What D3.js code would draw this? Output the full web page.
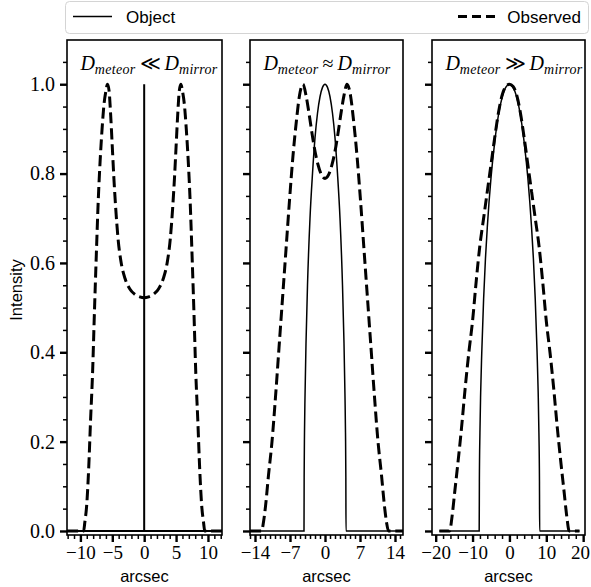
<!DOCTYPE html>
<html>
<head>
<meta charset="utf-8">
<script src="https://cdn.jsdelivr.net/npm/d3@7"></script>
<style>
  body { margin: 0; background: #fff; }
  svg { display: block; }
</style>
</head>
<body>
<svg id="chart" width="591" height="587"></svg>
<script>
// ---------- data ----------
const yTickValues = [0, 0.2, 0.4, 0.6, 0.8, 1.0];
const yTickLabels = ["0.0", "0.2", "0.4", "0.6", "0.8", "1.0"];

const xTicksNarrow = [-10, -5, 0, 5, 10];
const xTicksMid = [-14, -7, 0, 7, 14];
const xTicksWide = [-20, -10, 0, 10, 20];

const relations = ["≪", "≈", "≫"];
const legendLabels = ["Object", "Observed"];
const axisLabelX = "arcsec";
const axisLabelY = "Intensity";

// point source: a spike at the centre
const objectNarrow = [[-12.1, 0], [-0.001, 0], [0, 1.0], [0.001, 0], [12.2, 0]];
const observedNarrow = [
  [-12.1, 0], [-9.5, 0], [-9.3, 0.02], [-9.0, 0.06], [-8.7, 0.14], [-8.4, 0.25],
  [-8.1, 0.35], [-7.8, 0.49], [-7.5, 0.62], [-7.2, 0.74], [-6.9, 0.83], [-6.6, 0.9],
  [-6.3, 0.955], [-6.0, 0.985], [-5.75, 1.0], [-5.5, 0.985], [-5.25, 0.93], [-5.0, 0.86],
  [-4.75, 0.79], [-4.45, 0.72], [-4.1, 0.655], [-3.6, 0.6], [-3.0, 0.565], [-2.3, 0.543],
  [-1.5, 0.53], [-0.7, 0.524], [0, 0.522],
  [0.7, 0.524], [1.5, 0.53], [2.3, 0.543], [3.0, 0.565], [3.6, 0.6], [4.1, 0.655],
  [4.45, 0.72], [4.75, 0.79], [5.0, 0.86], [5.25, 0.93], [5.5, 0.985], [5.75, 1.0],
  [6.0, 0.985], [6.3, 0.955], [6.6, 0.9], [6.9, 0.83], [7.2, 0.74], [7.5, 0.62],
  [7.8, 0.49], [8.1, 0.35], [8.4, 0.25], [8.7, 0.14], [9.0, 0.06], [9.3, 0.02],
  [9.5, 0], [12.2, 0]
];

// meteor comparable to the mirror
const objectMid = [
  [-15.0, 0], [-4.2, 0], [-4.17, 0.12], [-4.1, 0.22], [-4.0, 0.3], [-3.8, 0.42],
  [-3.5, 0.55], [-3.0, 0.7], [-2.5, 0.8], [-2.0, 0.88], [-1.5, 0.935], [-1.0, 0.972],
  [-0.5, 0.993], [0, 1.0],
  [0.5, 0.993], [1.0, 0.972], [1.5, 0.935], [2.0, 0.88], [2.5, 0.8], [3.0, 0.7],
  [3.5, 0.55], [3.8, 0.42], [4.0, 0.3], [4.1, 0.22], [4.17, 0.12], [4.2, 0], [15.6, 0]
];
const observedMid = [
  [-15.0, 0], [-12.7, 0], [-12.3, 0.02], [-11.9, 0.055], [-11.3, 0.125], [-10.6, 0.2],
  [-9.9, 0.3], [-9.2, 0.41], [-8.5, 0.52], [-7.8, 0.63], [-7.1, 0.74], [-6.4, 0.84],
  [-5.7, 0.92], [-5.1, 0.975], [-4.4, 1.0], [-3.8, 0.975], [-3.2, 0.935], [-2.6, 0.89],
  [-2.0, 0.85], [-1.4, 0.82], [-0.7, 0.797], [0, 0.789],
  [0.7, 0.797], [1.4, 0.82], [2.0, 0.85], [2.6, 0.89], [3.2, 0.935], [3.8, 0.975],
  [4.4, 1.0], [5.1, 0.975], [5.7, 0.92], [6.4, 0.84], [7.1, 0.74], [7.8, 0.63],
  [8.5, 0.52], [9.2, 0.41], [9.9, 0.3], [10.6, 0.2], [11.3, 0.125], [11.9, 0.055],
  [12.3, 0.02], [12.7, 0], [15.6, 0]
];

// meteor much larger than the mirror
const objectWide = [
  [-19, 0], [-8.2, 0], [-8.15, 0.11], [-8.0, 0.22], [-7.8, 0.31], [-7.5, 0.4],
  [-7.0, 0.52], [-6.5, 0.61], [-6.0, 0.68], [-5.0, 0.79], [-4.0, 0.87], [-3.0, 0.93],
  [-2.0, 0.97], [-1.0, 0.993], [0, 1.0],
  [1.0, 0.993], [2.0, 0.97], [3.0, 0.93], [4.0, 0.87], [5.0, 0.79], [6.0, 0.68],
  [6.5, 0.61], [7.0, 0.52], [7.5, 0.4], [7.8, 0.31], [8.0, 0.22], [8.15, 0.11],
  [8.2, 0], [19, 0]
];
const observedWide = [
  [-19, 0], [-16.2, 0], [-15.6, 0.03], [-14.8, 0.09], [-14.0, 0.15], [-13.0, 0.23],
  [-12.0, 0.32], [-11.0, 0.4], [-10.0, 0.47], [-9.0, 0.56], [-8.0, 0.64], [-7.0, 0.7],
  [-6.0, 0.76], [-5.0, 0.82], [-4.0, 0.88], [-3.0, 0.935], [-2.0, 0.975], [-1.0, 0.995],
  [0, 1.0],
  [1.0, 0.995], [2.0, 0.975], [3.0, 0.935], [4.0, 0.88], [5.0, 0.82], [6.0, 0.76],
  [7.0, 0.7], [8.0, 0.64], [9.0, 0.56], [10.0, 0.47], [11.0, 0.4], [12.0, 0.32],
  [13.0, 0.23], [14.0, 0.15], [14.8, 0.09], [15.6, 0.03], [16.2, 0], [19, 0]
];

// ---------- layout ----------
const svgWidth = 591;
const svg = d3.select("#chart");
const plotTop = 40, plotBottom = 535;
const serif = "'Liberation Serif', 'DejaVu Serif', serif";
const sans = "'Liberation Sans', Arial, sans-serif";

const y = d3.scaleLinear().domain([-0.009, 1.099]).range([plotBottom, plotTop]);

const panels = [
  { left: 67,  right: 222, domain: [-12.1, 12.2], ticks: xTicksNarrow, minorStep: 1,
    object: objectNarrow, observed: observedNarrow, objectCurve: d3.curveLinear, objectWidth: 2,
    rel: relations[0], titleX: 149, labelsY: true },
  { left: 250, right: 403, domain: [-15.0, 15.6], ticks: xTicksMid, minorStep: 1,
    object: objectMid, observed: observedMid, objectCurve: d3.curveMonotoneX, objectWidth: 1.5,
    rel: relations[1], titleX: 327, labelsY: false },
  { left: 432, right: 585, domain: [-21.0, 20.5], ticks: xTicksWide, minorStep: 2,
    object: objectWide, observed: observedWide, objectCurve: d3.curveMonotoneX, objectWidth: 1.5,
    rel: relations[2], titleX: 514, labelsY: false }
];

const yMinor = d3.range(0.05, 1.09, 0.05).map(v => +v.toFixed(2))
  .filter(v => !yTickValues.some(t => Math.abs(t - v) < 1e-6));

panels.forEach((p, i) => {
  const x = d3.scaleLinear().domain(p.domain).range([p.left, p.right]);
  const g = svg.append("g");

  const clipId = "clip" + i;
  svg.append("clipPath").attr("id", clipId)
    .append("rect").attr("x", p.left).attr("y", plotTop)
    .attr("width", p.right - p.left).attr("height", plotBottom - plotTop);

  const plot = g.append("g").attr("clip-path", `url(#${clipId})`);

  // observed profile (dashed)
  plot.append("path")
    .datum(p.observed)
    .attr("d", d3.line().x(d => x(d[0])).y(d => y(d[1])).curve(d3.curveMonotoneX))
    .attr("fill", "none").attr("stroke", "#000")
    .attr("stroke-width", 3).attr("stroke-dasharray", "11.1,4.8");

  // object profile (solid)
  plot.append("path")
    .datum(p.object)
    .attr("d", d3.line().x(d => x(d[0])).y(d => y(d[1])).curve(p.objectCurve))
    .attr("fill", "none").attr("stroke", "#000")
    .attr("stroke-width", p.objectWidth).attr("stroke-linejoin", "miter");

  // x axis: major and minor ticks
  const minors = d3.range(Math.ceil(p.domain[0] / p.minorStep) * p.minorStep, p.domain[1] + 1e-9, p.minorStep)
    .filter(v => !p.ticks.includes(v));
  const xMinorAxis = g.append("g").attr("transform", `translate(0,${plotBottom})`)
    .call(d3.axisBottom(x).tickValues(minors).tickSize(4).tickFormat(""));
  xMinorAxis.select(".domain").remove();
  xMinorAxis.selectAll("line").attr("stroke-width", 1.5);

  const xAxis = g.append("g").attr("transform", `translate(0,${plotBottom})`)
    .call(d3.axisBottom(x).tickValues(p.ticks).tickSize(7).tickPadding(4));
  xAxis.select(".domain").remove();
  xAxis.selectAll("line").attr("stroke-width", 2.4);
  xAxis.selectAll("text").attr("font-family", serif).attr("font-size", 19).attr("fill", "#000");
  // keep the outermost label inside the canvas
  xAxis.selectAll(".tick").each(function () {
    const tick = d3.select(this);
    const m = /translate\(([-\d.]+)/.exec(tick.attr("transform"));
    const tx = m ? +m[1] : 0;
    const txt = tick.select("text");
    const w = txt.node().getComputedTextLength();
    const overflow = tx + w / 2 - (svgWidth - 1);
    if (overflow > 0) txt.attr("dx", -overflow);
  });

  // y axis
  const yMinorAxis = g.append("g").attr("transform", `translate(${p.left},0)`)
    .call(d3.axisLeft(y).tickValues(yMinor).tickSize(4).tickFormat(""));
  yMinorAxis.select(".domain").remove();
  yMinorAxis.selectAll("line").attr("stroke-width", 1.5);

  const yAxis = g.append("g").attr("transform", `translate(${p.left},0)`)
    .call(d3.axisLeft(y).tickValues(yTickValues).tickSize(7).tickPadding(5)
      .tickFormat((d, k) => p.labelsY ? yTickLabels[k] : ""));
  yAxis.select(".domain").remove();
  yAxis.selectAll("line").attr("stroke-width", 2.4);
  yAxis.selectAll("text").attr("font-family", serif).attr("font-size", 20).attr("fill", "#000");

  // frame
  g.append("rect")
    .attr("x", p.left).attr("y", plotTop)
    .attr("width", p.right - p.left).attr("height", plotBottom - plotTop)
    .attr("fill", "none").attr("stroke", "#000").attr("stroke-width", 1.6);

  // panel title: D_meteor <rel> D_mirror
  const t = g.append("text")
    .attr("x", p.titleX).attr("y", 70)
    .attr("text-anchor", "middle")
    .attr("font-family", serif).attr("font-size", 20).attr("fill", "#000");
  t.append("tspan").attr("font-style", "italic").text("D");
  t.append("tspan").attr("font-style", "italic").attr("font-size", 14).attr("dy", 4)
    .attr("letter-spacing", 0.3).text("meteor");
  t.append("tspan").attr("dy", -4).attr("dx", 4).text(p.rel);
  t.append("tspan").attr("dx", 4).attr("font-style", "italic").text("D");
  t.append("tspan").attr("font-style", "italic").attr("font-size", 14).attr("dy", 4)
    .attr("letter-spacing", 0.3).text("mirror");

  // x label
  g.append("text")
    .attr("x", (p.left + p.right) / 2).attr("y", 582)
    .attr("text-anchor", "middle")
    .attr("font-family", sans).attr("font-size", 16.5).attr("fill", "#000")
    .text(axisLabelX);
});

// y label
svg.append("text")
  .attr("transform", "translate(22,290) rotate(-90)")
  .attr("text-anchor", "middle")
  .attr("font-family", sans).attr("font-size", 16.5).attr("fill", "#000")
  .text(axisLabelY);

// legend
const legend = svg.append("g");
legend.append("rect")
  .attr("x", 65.5).attr("y", 1.5).attr("width", 523).attr("height", 32)
  .attr("rx", 4).attr("ry", 4)
  .attr("fill", "#fff").attr("stroke", "#d4d4d4").attr("stroke-width", 1);
legend.append("line")
  .attr("x1", 73).attr("x2", 112).attr("y1", 16.5).attr("y2", 16.5)
  .attr("stroke", "#000").attr("stroke-width", 1.6);
legend.append("text")
  .attr("x", 126).attr("y", 23)
  .attr("font-family", sans).attr("font-size", 17).attr("fill", "#000")
  .text(legendLabels[0]);
legend.append("line")
  .attr("x1", 458).attr("x2", 497).attr("y1", 16.5).attr("y2", 16.5)
  .attr("stroke", "#000").attr("stroke-width", 3).attr("stroke-dasharray", "9,5");
legend.append("text")
  .attr("x", 581).attr("y", 23).attr("text-anchor", "end")
  .attr("font-family", sans).attr("font-size", 17).attr("fill", "#000")
  .text(legendLabels[1]);
</script>
</body>
</html>
